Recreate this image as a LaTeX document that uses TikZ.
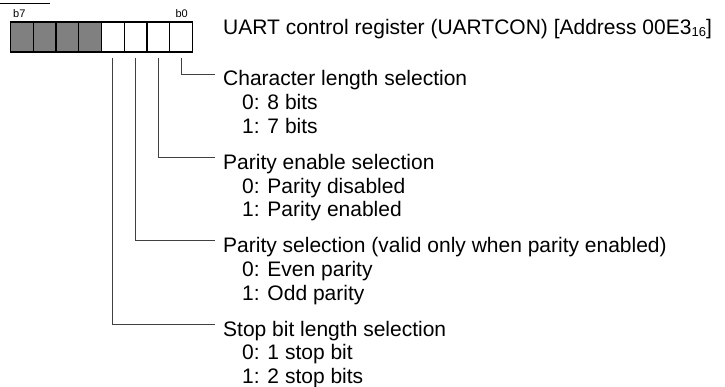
\documentclass[tikz,border=0pt]{standalone}
\usepackage{fontspec}
\setmainfont{Liberation Sans}
\usetikzlibrary{positioning}

\begin{document}
\begin{tikzpicture}[
    x=1pt, y=-1pt,
    cell/.style={draw, line width=1.3pt, minimum width=22.75pt, minimum height=30pt, inner sep=0pt},
    head/.style={anchor=base west, inner sep=0pt, font=\fontsize{21}{24}\selectfont},
    opt/.style={head},
    bitlbl/.style={inner sep=0pt, font=\fontsize{11}{13}\selectfont},
    link/.style={draw=black!75, line width=0.8pt, shorten <=5pt}
]
\useasboundingbox (0,0) rectangle (725,387);

% register cells, b0 on the right
\foreach \i in {0,...,3}
    \node[cell, fill=white] (bit\i) at ({192.5-22.75*(\i+0.5)}, 37) {};
\foreach \i in {4,...,7}
    \node[cell, fill=black!50] (bit\i) at ({192.5-22.75*(\i+0.5)}, 37) {};

\node[bitlbl, anchor=base west] (lb7) at (13,18) {b7};
\node[bitlbl, anchor=base east] (lb0) at (188,18) {b0};
\draw[line width=1pt] (0,3.5) -- (50,3.5);

\node[head] (title) at (223,35) {UART control register (UARTCON) [Address 00E3\raisebox{-1.5pt}{\fontsize{13}{13}\selectfont 16}]};

% bit 0
\node[head] (h0) at (223,86) {Character length selection};
\node[opt] (h0a) at (242,109.7) {0: 8 bits};
\node[opt] (h0b) at (242,133.4) {1: 7 bits};

% bit 1
\node[head] (h1) at (223,169.4) {Parity enable selection};
\node[opt] (h1a) at (242,193.1) {0: Parity disabled};
\node[opt] (h1b) at (242,216.8) {1: Parity enabled};

% bit 2
\node[head] (h2) at (223,252.8) {Parity selection (valid only when parity enabled)};
\node[opt] (h2a) at (242,276.5) {0: Even parity};
\node[opt] (h2b) at (242,300.2) {1: Odd parity};

% bit 3
\node[head] (h3) at (223,336.2) {Stop bit length selection};
\node[opt] (h3a) at (242,359.9) {0: 1 stop bit};
\node[opt] (h3b) at (242,383.6) {1: 2 stop bits};

\draw[link] (bit0.south) |- ([xshift=-8pt, yshift=12pt]h0.base west);
\draw[link] (bit1.south) |- ([xshift=-8pt, yshift=12pt]h1.base west);
\draw[link] (bit2.south) |- ([xshift=-8pt, yshift=12pt]h2.base west);
\draw[link] (bit3.south) |- ([xshift=-8pt, yshift=12pt]h3.base west);
\end{tikzpicture}
\end{document}
